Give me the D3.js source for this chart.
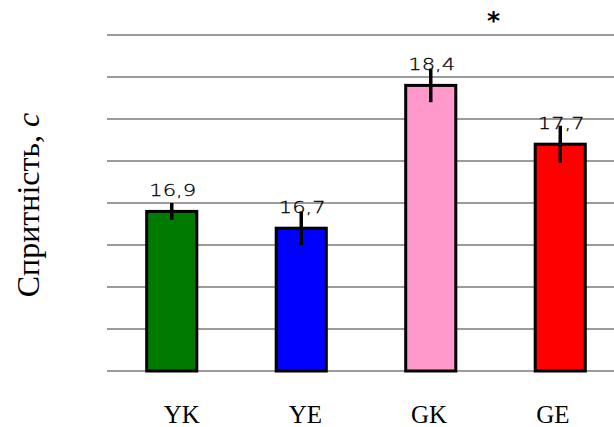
<!DOCTYPE html>
<html>
<head>
<meta charset="utf-8">
<script src="https://cdn.jsdelivr.net/npm/d3@7/dist/d3.min.js"></script>
<style>
  html, body { margin: 0; padding: 0; background: #fff; }
  svg { display: block; }
  .serif { font-family: "Liberation Serif", "Times New Roman", "DejaVu Serif", serif; }
</style>
</head>
<body>
<svg id="chart" width="614" height="427"></svg>
<script>
// Groups, mean agility time (s) and error half-widths
const categories = ["YK", "YE", "GK", "GE"];
const values = [16.9, 16.7, 18.4, 17.7];
const errors = [0.1, 0.2, 0.2, 0.22];
const colors = ["#007a00", "#0000ff", "#ff99cc", "#ff0000"];
const gridTicks = [15, 15.5, 16, 16.5, 17, 17.5, 18, 18.5, 19];
const yTitle = "Спритність, ";
const yUnit = "с";
const significance = "*";

const svg = d3.select("#chart");

const x = d3.scaleBand()
  .domain(categories)
  .range([107, 625])
  .paddingInner(0.59)
  .paddingOuter(0.295);

const y = d3.scaleLinear()
  .domain([15, 19])
  .range([371, 35]);

// Horizontal grid lines
svg.append("g")
  .selectAll("line")
  .data(gridTicks)
  .join("line")
  .attr("x1", x.range()[0])
  .attr("x2", x.range()[1])
  .attr("y1", d => y(d))
  .attr("y2", d => y(d))
  .attr("stroke", "#7a7a7a")
  .attr("stroke-width", 1.6);

const rows = categories.map((c, i) => ({ c, v: values[i], e: errors[i], color: colors[i] }));

// Bars
svg.append("g")
  .selectAll("rect")
  .data(rows)
  .join("rect")
  .attr("x", d => x(d.c) + 1.5)
  .attr("y", d => y(d.v))
  .attr("width", x.bandwidth() - 3)
  .attr("height", d => y(15) - y(d.v))
  .attr("fill", d => d.color)
  .attr("stroke", "#000")
  .attr("stroke-width", 3);

// Error bars
svg.append("g")
  .selectAll("line")
  .data(rows)
  .join("line")
  .attr("x1", d => x(d.c) + x.bandwidth() / 2)
  .attr("x2", d => x(d.c) + x.bandwidth() / 2)
  .attr("y1", d => y(d.v + d.e))
  .attr("y2", d => y(d.v - d.e))
  .attr("stroke", "#000")
  .attr("stroke-width", 3.5);

// Value labels (comma decimal separator)
const fmt = d => d3.format(".1f")(d).replace(".", ",");
svg.append("g")
  .selectAll("g")
  .data(rows)
  .join("g")
  .attr("transform", d => `translate(${x(d.c) + x.bandwidth() / 2 + 1},${y(d.v) - 15.5}) scale(1.36,1)`)
  .append("text")
  .attr("text-anchor", "middle")
  .style("font-family", "'DejaVu Sans'")
  .style("font-weight", 200)
  .style("font-size", "15.5px")
  .attr("fill", "#000")
  .attr("stroke", "#000")
  .attr("stroke-width", 0.25)
  .text(d => fmt(d.v));

// Significance mark between GK and GE
const cGK = x("GK") + x.bandwidth() / 2;
const cGE = x("GE") + x.bandwidth() / 2;
svg.append("text")
  .attr("x", (cGK + cGE) / 2 - 2)
  .attr("y", 29)
  .attr("text-anchor", "middle")
  .style("font-family", "'DejaVu Sans'")
  .style("font-weight", "bold")
  .style("font-size", "25px")
  .attr("fill", "#000")
  .text(significance);

// Category labels
const xl = d3.scalePoint()
  .domain(categories)
  .range([181.7, 552.8]);
svg.append("g")
  .selectAll("text")
  .data(categories)
  .join("text")
  .attr("class", "serif")
  .attr("x", d => xl(d))
  .attr("y", 423)
  .attr("text-anchor", "middle")
  .style("font-size", "25px")
  .attr("fill", "#000")
  .text(d => d);

// Y-axis title
const title = svg.append("text")
  .attr("class", "serif")
  .attr("transform", "translate(39,205) rotate(-90)")
  .attr("text-anchor", "middle")
  .style("font-size", "32px")
  .attr("fill", "#000");
title.append("tspan").text(yTitle);
title.append("tspan").style("font-style", "italic").text(yUnit);
</script>
</body>
</html>
